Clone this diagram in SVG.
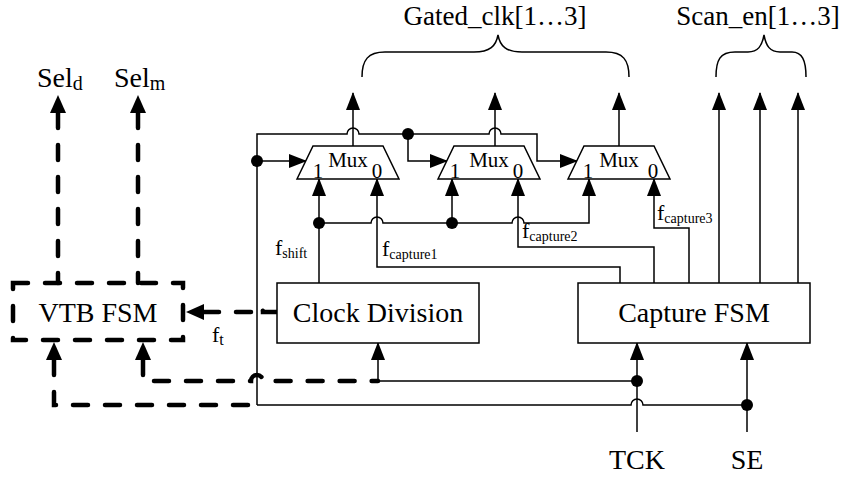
<svg xmlns="http://www.w3.org/2000/svg" width="843" height="478" viewBox="0 0 843 478">
<style>
text{font-family:"Liberation Serif","Times New Roman",serif;fill:#000}
.big{font-size:28px}
.mid{font-size:27px}
.mx{font-size:21px}
.f{font-size:22px}
.sub{font-size:14px}
.t{fill:none;stroke:#000;stroke-width:1.5}
.box{fill:#fff;stroke:#000;stroke-width:1.5}
.d{fill:none;stroke:#000;stroke-width:4.5;stroke-dasharray:15 17;stroke-linecap:round}
.dot{fill:#000}
</style>
<defs>
<marker id="a" viewBox="0 0 18 14" refX="17" refY="7" markerWidth="18" markerHeight="14" markerUnits="userSpaceOnUse" orient="auto">
<path d="M0,0 L18,7 L0,14 Z" fill="#000"/>
</marker>
<marker id="ab" viewBox="0 0 18 16" refX="0" refY="8" markerWidth="18" markerHeight="16" markerUnits="userSpaceOnUse" orient="auto-start-reverse">
<path d="M0,0 L18,8 L0,16 Z" fill="#000"/>
</marker>
</defs>

<g id="labels">
<text class="mid" x="495" y="25" text-anchor="middle">Gated_clk[1…3]</text>
<text class="mid" x="758" y="25" text-anchor="middle">Scan_en[1…3]</text>
<path class="t" d="M362,77 C362,60 368,52 385,52 L474,52 C490,52 496,46 498,35 C500,46 506,52 522,52 L606,52 C623,52 629,60 629,77"/>
<path class="t" d="M716,77 C716,60 720,52 735,52 L748,52 C758,52 762,46 764,35 C766,46 770,52 780,52 L792,52 C802,52 806,60 806,77"/>
<text class="big" x="37" y="87">Sel<tspan font-size="20" dy="3">d</tspan></text>
<text class="big" x="114" y="87">Sel<tspan font-size="20" dy="3">m</tspan></text>
<text class="f" x="275" y="255">f<tspan class="sub" dy="3">shift</tspan></text>
<text class="f" x="382" y="256">f<tspan class="sub" dy="3">capture1</tspan></text>
<text class="f" x="522" y="238">f<tspan class="sub" dy="3">capture2</tspan></text>
<text class="f" x="657" y="220">f<tspan class="sub" dy="3">capture3</tspan></text>
<text class="f" x="212" y="342">f<tspan font-size="16" dy="3">t</tspan></text>
<text class="big" x="637" y="469" text-anchor="middle">TCK</text>
<text class="big" x="747" y="469" text-anchor="middle">SE</text>
</g>

<g id="connectors">
<path class="t" d="M257,405 L257,134 L347,134 A6,6 0 0 1 359,134 L489,134 A6,6 0 0 1 501,134 L537,134 L537,161 L577,161" marker-end="url(#a)"/>
<path class="t" d="M257,161 L306,161" marker-end="url(#a)"/>
<path class="t" d="M408,134 L408,161 L447,161" marker-end="url(#a)"/>
<path class="t" d="M353,146 L353,93" marker-end="url(#a)"/>
<path class="t" d="M495,146 L495,93" marker-end="url(#a)"/>
<path class="t" d="M619,146 L619,93" marker-end="url(#a)"/>
<path class="t" d="M719,283 L719,93" marker-end="url(#a)"/>
<path class="t" d="M760,283 L760,93" marker-end="url(#a)"/>
<path class="t" d="M798,283 L798,93" marker-end="url(#a)"/>
<path class="t" d="M319,283 L319,179" marker-end="url(#a)"/>
<path class="t" d="M319,223 L371,223 A6,6 0 0 1 383,223 L512,223 A6,6 0 0 1 524,223 L589,223 L589,179" marker-end="url(#a)"/>
<path class="t" d="M452,223 L452,179" marker-end="url(#a)"/>
<path class="t" d="M620,283 L620,267 L377,267 L377,179" marker-end="url(#a)"/>
<path class="t" d="M654,283 L654,247 L518,247 L518,179" marker-end="url(#a)"/>
<path class="t" d="M689,283 L689,228 L654,228 L654,179" marker-end="url(#a)"/>
<path class="t" d="M637,432 L637,343" marker-end="url(#a)"/>
<path class="t" d="M747,432 L747,343" marker-end="url(#a)"/>
<path class="t" d="M637,381 L378,381 L378,343" marker-end="url(#a)"/>
<path class="t" d="M747,405 L643,405 A6,6 0 0 0 631,405 L257,405"/>
<path class="d" d="M58,113 L58,283" marker-start="url(#ab)"/>
<path class="d" d="M138,113 L138,283" marker-start="url(#ab)"/>
<path class="d" d="M204,312 L251,312 A6,6 0 0 1 263,312 L277,312" marker-start="url(#ab)"/>
<path class="d" d="M143,360 L143,381 L251,381 A6,6 0 0 1 263,381 L378,381" marker-start="url(#ab)"/>
<path class="d" d="M54,360 L54,405 L257,405" marker-start="url(#ab)"/>
<circle class="dot" cx="257" cy="161" r="6"/>
<circle class="dot" cx="408" cy="134" r="6"/>
<circle class="dot" cx="319" cy="223" r="6"/>
<circle class="dot" cx="452" cy="223" r="6"/>
<circle class="dot" cx="637" cy="381" r="6"/>
<circle class="dot" cx="747" cy="405" r="6"/>
</g>

<g id="mux1">
<path class="box" d="M297,179 L313,146 L383,146 L399,179 Z"/>
<text class="mx" x="348" y="167" text-anchor="middle">Mux</text>
<text class="mx" x="318" y="178" text-anchor="middle">1</text>
<text class="mx" x="377" y="178" text-anchor="middle">0</text>
</g>
<g id="mux2">
<path class="box" d="M438,179 L454,146 L524,146 L540,179 Z"/>
<text class="mx" x="489" y="167" text-anchor="middle">Mux</text>
<text class="mx" x="455" y="178" text-anchor="middle">1</text>
<text class="mx" x="518" y="178" text-anchor="middle">0</text>
</g>
<g id="mux3">
<path class="box" d="M568,179 L584,146 L654,146 L670,179 Z"/>
<text class="mx" x="619" y="167" text-anchor="middle">Mux</text>
<text class="mx" x="588" y="178" text-anchor="middle">1</text>
<text class="mx" x="653" y="178" text-anchor="middle">0</text>
</g>
<g id="vtb_fsm">
<rect class="d" x="13" y="283" width="170" height="57" stroke-dasharray="15 15"/>
<text class="big" x="98" y="322" text-anchor="middle">VTB FSM</text>
</g>
<g id="clock_division">
<rect class="box" x="277" y="283" width="202" height="60"/>
<text class="big" x="378" y="322" text-anchor="middle">Clock Division</text>
</g>
<g id="capture_fsm">
<rect class="box" x="578" y="283" width="232" height="60"/>
<text class="big" x="694" y="322" text-anchor="middle">Capture FSM</text>
</g>
</svg>
